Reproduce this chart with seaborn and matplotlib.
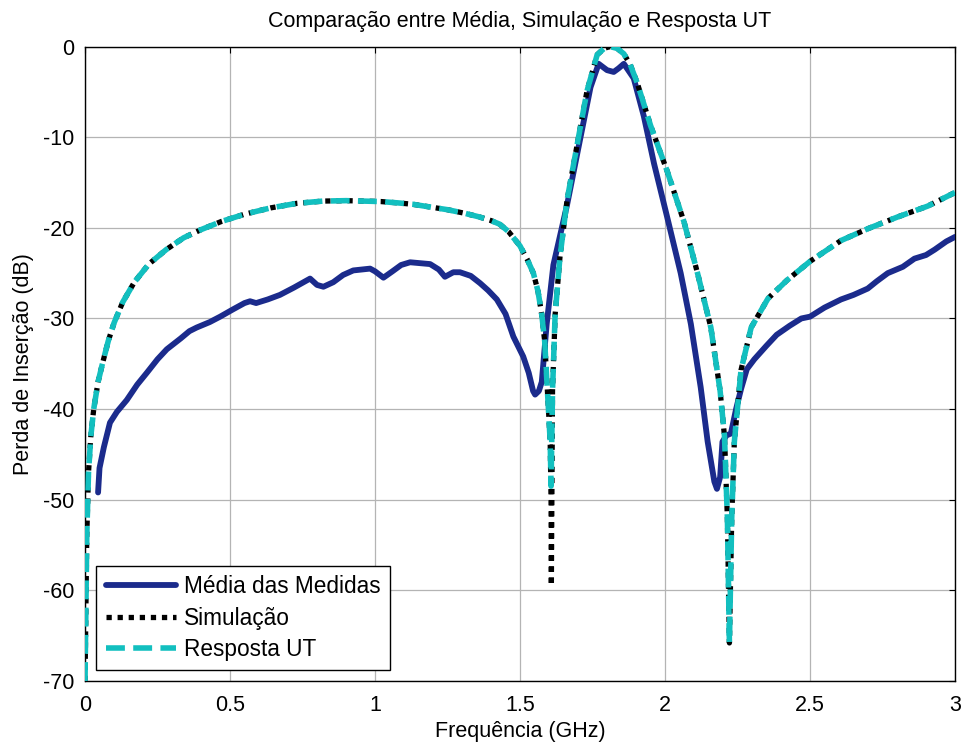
import numpy as np
import pandas as pd
import matplotlib
matplotlib.use("Agg")
import matplotlib.pyplot as plt
import seaborn as sns

### Insertion loss data (GHz / dB)

# Média das Medidas
freq_med = [0.045, 0.05, 0.065, 0.086, 0.11, 0.144, 0.18, 0.213, 0.25, 0.282,
            0.33, 0.36, 0.385, 0.43, 0.466, 0.51, 0.55, 0.569, 0.59, 0.63,
            0.672, 0.72, 0.776, 0.8, 0.822, 0.856, 0.89, 0.925, 0.983, 1.0,
            1.029, 1.06, 1.09, 1.121, 1.19, 1.22, 1.241, 1.27, 1.293, 1.33,
            1.362, 1.39, 1.42, 1.45, 1.477, 1.511, 1.53, 1.545, 1.552, 1.565,
            1.575, 1.592, 1.615, 1.662, 1.708, 1.743, 1.771, 1.80, 1.823, 1.84,
            1.858, 1.892, 1.927, 1.962, 2.008, 2.054, 2.089, 2.123, 2.147, 2.170,
            2.179, 2.19, 2.198, 2.212, 2.227, 2.245, 2.262, 2.282, 2.308, 2.35,
            2.385, 2.43, 2.47, 2.5, 2.55, 2.607, 2.65, 2.699, 2.73, 2.768,
            2.82, 2.86, 2.9, 2.93, 2.97, 3.0]
il_med = [-49.2, -46.5, -44.2, -41.5, -40.3, -39.0, -37.3, -36.0, -34.5, -33.4,
          -32.2, -31.4, -31.0, -30.4, -29.8, -29.0, -28.3, -28.1, -28.3, -27.9,
          -27.4, -26.6, -25.6, -26.3, -26.5, -26.0, -25.2, -24.7, -24.5, -24.8,
          -25.5, -24.8, -24.1, -23.8, -24.0, -24.6, -25.4, -24.9, -24.9, -25.3,
          -26.1, -26.9, -27.9, -29.5, -32.0, -34.2, -36.0, -38.0, -38.4, -38.0,
          -37.0, -30.6, -24.1, -17.5, -10.1, -4.5, -1.9, -2.6, -2.8, -2.4,
          -1.9, -3.5, -7.7, -12.9, -18.9, -25.0, -30.6, -37.6, -43.6, -48.0,
          -48.8, -47.5, -43.6, -42.9, -42.7, -40.0, -37.8, -35.6, -34.5, -33.0,
          -31.8, -30.8, -30.0, -29.8, -28.8, -27.9, -27.4, -26.7, -25.9, -25.0,
          -24.3, -23.4, -23.0, -22.4, -21.5, -21.0]

# Simulação
freq_sim = [0.0, 0.003, 0.006, 0.012, 0.02, 0.03, 0.045, 0.06, 0.08, 0.1,
            0.13, 0.17, 0.22, 0.28, 0.34, 0.4, 0.47, 0.55, 0.64, 0.73,
            0.82, 0.9, 0.96, 1.02, 1.08, 1.13, 1.19, 1.25, 1.31, 1.36,
            1.40, 1.43, 1.46, 1.5, 1.525, 1.546, 1.562, 1.575, 1.585, 1.592,
            1.598, 1.604, 1.607, 1.608, 1.612, 1.621, 1.638, 1.662, 1.696, 1.731,
            1.766, 1.79, 1.81, 1.835, 1.858, 1.88, 1.904, 1.95, 2.008, 2.066,
            2.112, 2.158, 2.19, 2.205, 2.215, 2.222, 2.23, 2.239, 2.262, 2.297,
            2.355, 2.42, 2.5, 2.607, 2.699, 2.802, 2.906, 3.0]
il_sim = [-70.0, -62.0, -54.0, -47.0, -43.0, -40.0, -37.0, -35.0, -32.5, -30.5,
          -28.2, -26.0, -24.0, -22.4, -21.1, -20.2, -19.3, -18.5, -17.8, -17.3,
          -17.05, -17.0, -17.05, -17.1, -17.25, -17.4, -17.7, -18.0, -18.4, -18.8,
          -19.2, -19.6, -20.4, -22.0, -23.5, -25.0, -27.0, -29.6, -32.5, -36.6,
          -40.0, -43.6, -50.0, -59.5, -38.0, -29.6, -23.1, -17.0, -11.0, -4.9,
          -0.9, -0.2, 0.0, -0.2, -0.8, -2.0, -4.0, -8.7, -13.8, -19.4,
          -25.0, -31.0, -38.0, -43.0, -52.0, -65.8, -52.0, -43.6, -35.7, -31.0,
          -27.8, -25.8, -23.7, -21.4, -20.1, -18.8, -17.6, -16.1]

# Resposta UT
freq_ut = [0.0, 0.003, 0.006, 0.012, 0.02, 0.03, 0.045, 0.06, 0.08, 0.1,
           0.13, 0.17, 0.22, 0.28, 0.34, 0.4, 0.47, 0.55, 0.64, 0.73,
           0.82, 0.9, 0.96, 1.02, 1.08, 1.13, 1.19, 1.25, 1.31, 1.36,
           1.40, 1.43, 1.46, 1.5, 1.525, 1.546, 1.562, 1.575, 1.585, 1.592,
           1.598, 1.604, 1.607, 1.612, 1.621, 1.638, 1.662, 1.696, 1.731, 1.766,
           1.79, 1.81, 1.835, 1.858, 1.88, 1.904, 1.95, 2.008, 2.066, 2.112,
           2.158, 2.19, 2.205, 2.215, 2.222, 2.23, 2.239, 2.262, 2.297, 2.355,
           2.42, 2.5, 2.607, 2.699, 2.802, 2.906, 3.0]
il_ut = [-70.0, -62.0, -54.0, -47.0, -43.0, -40.0, -37.0, -35.0, -32.5, -30.5,
         -28.2, -26.0, -24.0, -22.4, -21.1, -20.2, -19.3, -18.5, -17.8, -17.3,
         -17.05, -17.0, -17.05, -17.1, -17.25, -17.4, -17.7, -18.0, -18.4, -18.8,
         -19.2, -19.6, -20.4, -22.0, -23.5, -25.0, -27.0, -29.6, -32.5, -36.6,
         -40.0, -43.6, -48.5, -38.0, -29.6, -23.1, -17.0, -11.0, -4.9, -0.9,
         -0.2, 0.0, -0.2, -0.8, -2.0, -4.0, -8.7, -13.8, -19.4, -25.0,
         -31.0, -38.0, -43.0, -52.0, -65.8, -52.0, -43.6, -35.7, -31.0, -27.8,
         -25.8, -23.7, -21.4, -20.1, -18.8, -17.6, -16.1]

x_ticks = [0, 0.5, 1, 1.5, 2, 2.5, 3]
x_ticklabels = ["0", "0.5", "1", "1.5", "2", "2.5", "3"]
y_ticks = [0, -10, -20, -30, -40, -50, -60, -70]

sns.set_style("white")
plt.rcParams['font.family'] = ['Liberation Sans', 'DejaVu Sans']
plt.rcParams['axes.unicode_minus'] = False
plt.rcParams['text.color'] = 'black'
plt.rcParams['axes.labelcolor'] = 'black'

fig = plt.figure(figsize=(9.64, 7.44), dpi=100)
ax = fig.add_axes([0.0882, 0.0847, 0.9025, 0.8527])

# curves
sns.lineplot(x=freq_med, y=il_med, ax=ax, sort=False, estimator=None,
             color="#1b2b8c", lw=4.2, label="Média das Medidas", zorder=3)
sns.lineplot(x=freq_sim, y=il_sim, ax=ax, sort=False, estimator=None,
             color="black", lw=3.8, label="Simulação", zorder=4)
sns.lineplot(x=freq_ut, y=il_ut, ax=ax, sort=False, estimator=None,
             color="#12bfbf", lw=4.0, label="Resposta UT", zorder=5)
lines = ax.get_lines()
lines[1].set_linestyle((0, (1.0, 1.1)))
lines[2].set_linestyle((0, (3.4, 1.5)))

ax.set_xlim(0, 3)
ax.set_ylim(-70, 0)
ax.set_xticks(x_ticks)
ax.set_xticklabels(x_ticklabels)
ax.set_yticks(y_ticks)

ax.grid(True, color="#b4b4b4", lw=0.9, ls="-")
ax.set_axisbelow(True)
for sp in ax.spines.values():
    sp.set_visible(True)
    sp.set_color("black")
    sp.set_linewidth(1.0)

ax.tick_params(direction="in", length=4, width=0.8, top=True, right=True,
               labelsize=15.5, colors="black")
ax.tick_params(axis="y", pad=8)
ax.tick_params(axis="x", pad=10)

ax.set_title("Comparação entre Média, Simulação e Resposta UT", fontsize=15.5,
             pad=14, color="black")
ax.set_xlabel("Frequência (GHz)", fontsize=15.5, labelpad=4)
ax.set_ylabel("Perda de Inserção (dB)", fontsize=15.5, labelpad=6)

leg = ax.legend(loc="lower left", bbox_to_anchor=(0.013, 0.017), fontsize=16.3,
                frameon=True, fancybox=False, shadow=False, framealpha=1,
                handlelength=3.1, handletextpad=0.35, borderpad=0.42,
                labelspacing=0.36, borderaxespad=0)
leg.get_frame().set_edgecolor("black")
leg.get_frame().set_linewidth(1.0)

fig.savefig("out.png", dpi=100)
